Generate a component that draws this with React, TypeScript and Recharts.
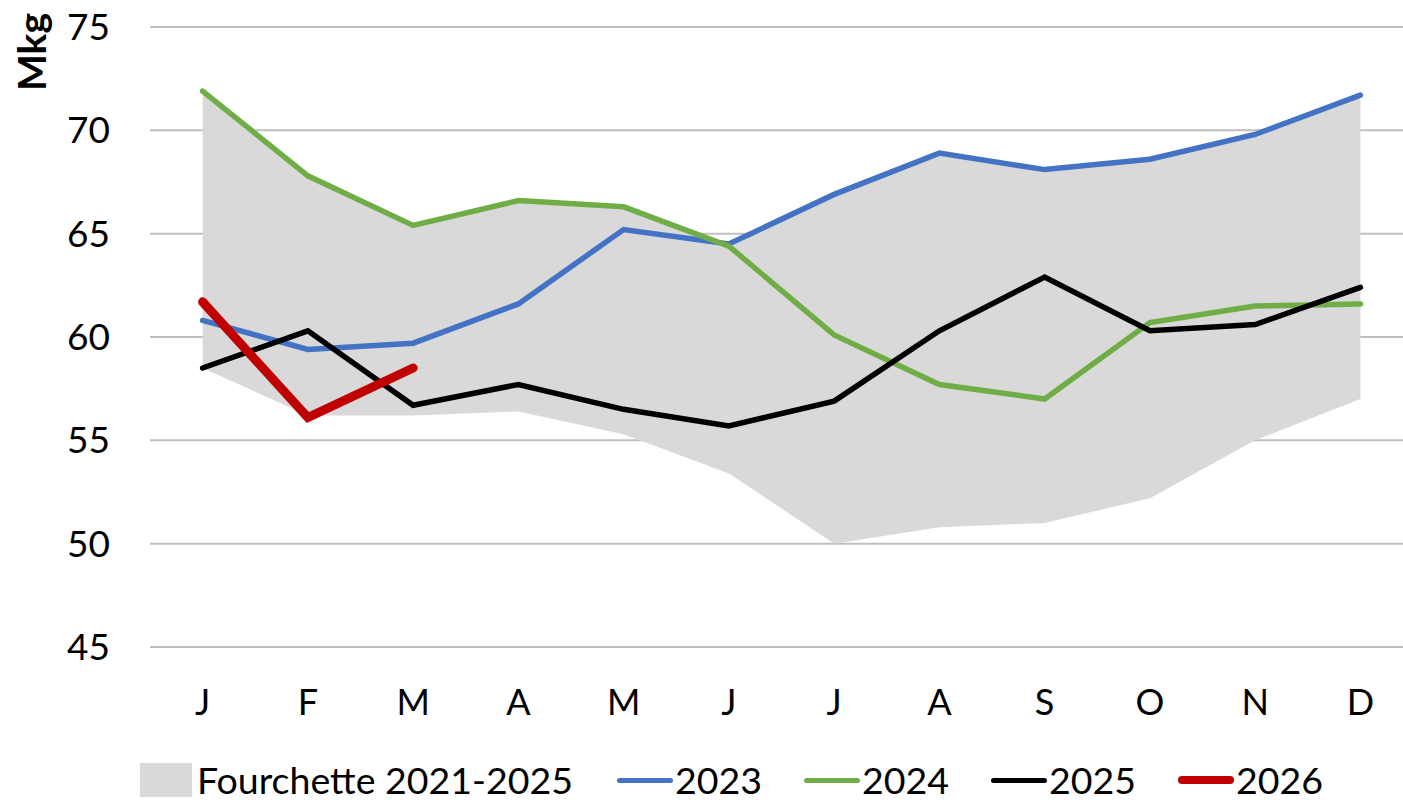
import { ComposedChart, Area, Line, XAxis, YAxis, CartesianGrid } from 'recharts'

const months = ['J', 'F', 'M', 'A', 'M', 'J', 'J', 'A', 'S', 'O', 'N', 'D']
const rangeLow = [58.5, 56.2, 56.2, 56.4, 55.3, 53.4, 50.0, 50.8, 51.0, 52.2, 55.0, 57.0]
const rangeHigh = [71.9, 67.8, 65.4, 66.6, 66.3, 64.5, 66.9, 68.9, 68.1, 68.6, 69.8, 71.7]
const y2023 = [60.8, 59.4, 59.7, 61.6, 65.2, 64.5, 66.9, 68.9, 68.1, 68.6, 69.8, 71.7]
const y2024 = [71.9, 67.8, 65.4, 66.6, 66.3, 64.4, 60.1, 57.7, 57.0, 60.7, 61.5, 61.6]
const y2025 = [58.5, 60.3, 56.7, 57.7, 56.5, 55.7, 56.9, 60.3, 62.9, 60.3, 60.6, 62.4]
const y2026 = [61.7, 56.1, 58.5]
const yTicks = [45, 50, 55, 60, 65, 70, 75]

const data = months.map((m, i) => ({
  idx: i,
  range: [rangeLow[i], rangeHigh[i]],
  y2023: y2023[i],
  y2024: y2024[i],
  y2025: y2025[i],
  y2026: i < y2026.length ? y2026[i] : null,
}))

const legendItems = [
  { label: '2023', color: '#4472C4' },
  { label: '2024', color: '#70AD47' },
  { label: '2025', color: '#000000' },
  { label: '2026', color: '#C00000' },
]

export default function App() {
  return (
    <div
      style={{
        position: 'absolute',
        left: 0,
        top: 0,
        width: 1403,
        height: 802,
        background: '#fff',
        fontFamily: 'Lato, "Open Sans", sans-serif',
        overflow: 'hidden',
      }}
    >
      <ComposedChart
        width={1403}
        height={802}
        data={data}
        margin={{ top: 27, right: -10, bottom: 125, left: 0 }}
      >
        <CartesianGrid vertical={false} stroke="#bfbfbf" strokeWidth={2} />
        <XAxis
          dataKey="idx"
          tickFormatter={(i) => months[i]}
          axisLine={false}
          tickLine={false}
          tickMargin={36}
          padding={{ left: 52.6, right: 52.6 }}
          tick={{ fontSize: 36, fill: '#000' }}
        />
        <YAxis
          domain={[45, 75]}
          ticks={yTicks}
          width={150}
          axisLine={false}
          tickLine={false}
          tickMargin={34}
          tick={{ fontSize: 37, fill: '#000' }}
        />
        <Area
          dataKey="range"
          fill="#d9d9d9"
          fillOpacity={1}
          stroke="none"
          isAnimationActive={false}
          dot={false}
          activeDot={false}
        />
        <Line dataKey="y2023" stroke="#4472C4" strokeWidth={5.5} dot={false} strokeLinecap="round" isAnimationActive={false} />
        <Line dataKey="y2024" stroke="#70AD47" strokeWidth={5.5} dot={false} strokeLinecap="round" isAnimationActive={false} />
        <Line dataKey="y2025" stroke="#000000" strokeWidth={5.5} dot={false} strokeLinecap="round" isAnimationActive={false} />
        <Line dataKey="y2026" stroke="#C00000" strokeWidth={9} dot={false} strokeLinecap="round" isAnimationActive={false} />
      </ComposedChart>

      {/* axis title */}
      <div
        style={{
          position: 'absolute',
          left: 31,
          top: 52,
          transform: 'translate(-50%, -50%) rotate(-90deg)',
          fontWeight: 'bold',
          fontSize: 39,
          whiteSpace: 'nowrap',
        }}
      >
        Mkg
      </div>

      {/* legend */}
      <div
        style={{
          position: 'absolute',
          left: 140,
          top: 758,
          display: 'flex',
          alignItems: 'center',
          fontSize: 37.5,
          lineHeight: '44px',
          whiteSpace: 'nowrap',
        }}
      >
        <span style={{ width: 52, height: 34, background: '#d9d9d9', marginRight: 5 }} />
        <span style={{ marginRight: 44 }}>Fourchette 2021-2025</span>
        {legendItems.map((it) => (
          <span key={it.label} style={{ display: 'flex', alignItems: 'center', marginRight: 42 }}>
            <span
              style={{
                width: 56,
                height: it.label === '2026' ? 8 : 5,
                borderRadius: 4,
                background: it.color,
                marginRight: 2,
              }}
            />
            <span>{it.label}</span>
          </span>
        ))}
      </div>
    </div>
  )
}
